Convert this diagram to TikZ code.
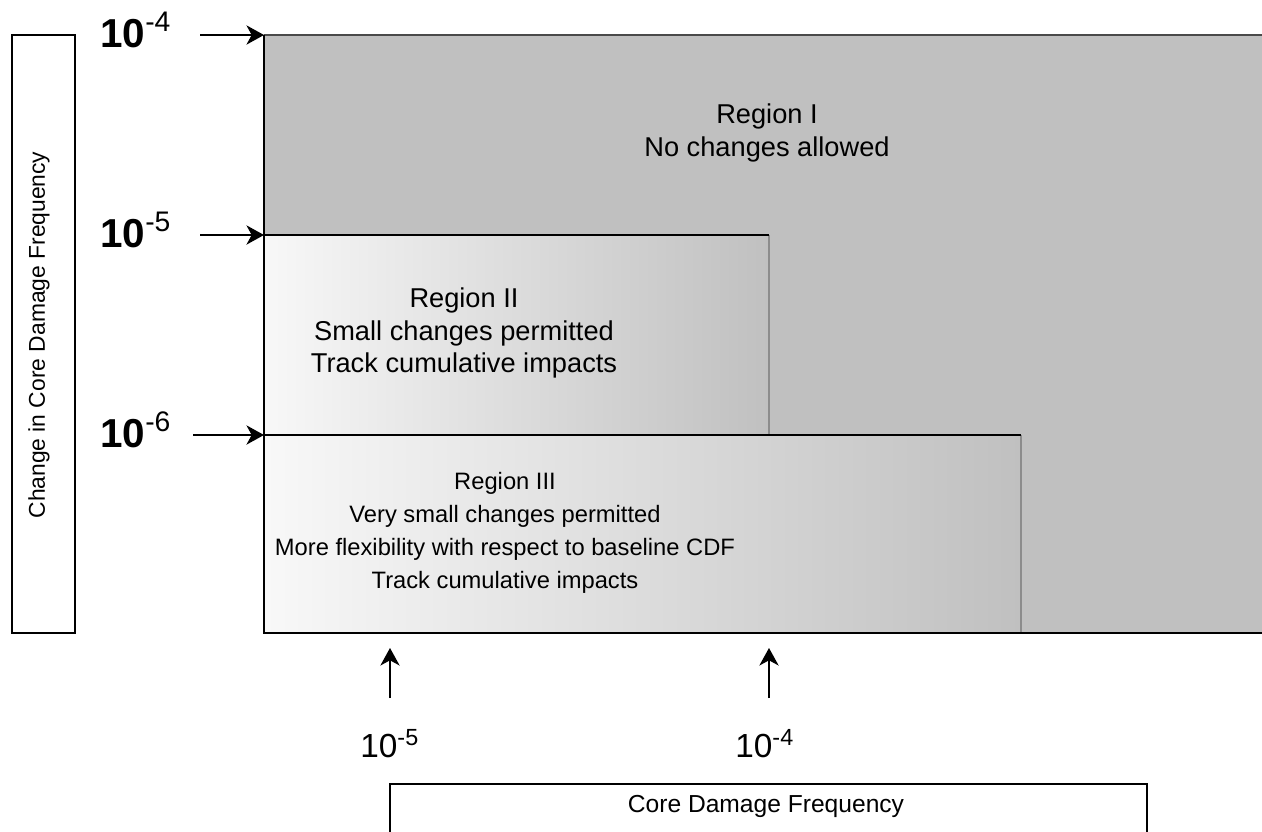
\documentclass[tikz,border=0pt]{standalone}
\usepackage{fontspec}
\setmainfont{Liberation Sans}
\usetikzlibrary{arrows.meta}
\definecolor{regiongray}{HTML}{C0C0C0}
\definecolor{edgegray}{HTML}{8C8C8C}
\definecolor{palegray}{HTML}{F8F8F8}
\definecolor{topgray}{HTML}{4A4A4A}
\begin{document}
\begin{tikzpicture}[x=0.02cm, y=-0.02cm,
    tick/.style={font=\fontsize{23}{26}\selectfont, anchor=base west, inner sep=0pt},
    cdf/.style={font=\fontsize{19}{22}\selectfont, anchor=base west, inner sep=0pt},
    region/.style={align=center, font=\fontsize{15.5}{18.7}\selectfont},
    axisname/.style={font=\fontsize{13}{15}\selectfont},
    marker/.style={->, >={Stealth[length=10pt, width=11pt, inset=3pt]}, line width=0.8pt}]
      \useasboundingbox (0,0) rectangle (1262,832);
      \fill[regiongray] (264,35) rectangle (1262,633);
      \shade[left color=palegray, right color=regiongray] (264,435) rectangle (1021,633);
      \shade[left color=palegray, right color=regiongray] (264,235) rectangle (769,435);
      \draw[edgegray, line width=1pt] (769,235) -- (769,435);
      \draw[edgegray, line width=1pt] (1021,435) -- (1021,633);
      \draw[line width=1pt] (264,235) -- (769,235);
      \draw[line width=1pt] (264,435) -- (1021,435);
      \draw[topgray, line width=1.2pt] (1262,35) -- (264,35);
      \draw[line width=1.4pt] (264,35) -- (264,633) -- (1262,633);
      \draw[line width=1pt] (12,35) rectangle (75,633);
      \draw[line width=1pt] (390,832) -- (390,784) -- (1147,784) -- (1147,832);
      \node[region] (r1) at (767,133) {Region I\\No changes allowed};
      \node[region] (r2) at (464,333) {Region II\\Small changes permitted\\Track cumulative impacts};
      \node[region, font=\fontsize{13.5}{18.7}\selectfont] (r3) at (505,533) {Region III\\Very small changes permitted\\More flexibility with respect to baseline CDF\\Track cumulative impacts};
      \node[axisname, rotate=90] (ylab) at (39,335) {Change in Core Damage Frequency};
      \node[axisname, font=\fontsize{14}{16}\selectfont] (xlab) at (766,806) {Core Damage Frequency};
      \node[tick] (y4) at (100,47) {\textbf{10}\textsuperscript{-4}};
      \node[tick] (y5) at (100,247) {\textbf{10}\textsuperscript{-5}};
      \node[tick] (y6) at (100,447) {\textbf{10}\textsuperscript{-6}};
      \node[cdf] (x5) at (360,757) {10\textsuperscript{-5}};
      \node[cdf] (x4) at (735,757) {10\textsuperscript{-4}};
      \coordinate (a4) at (264,35);
      \coordinate (a4s) at (200,35);
      \coordinate (a5) at (264,235);
      \coordinate (a5s) at (200,235);
      \coordinate (a6) at (264,435);
      \coordinate (a6s) at (193,435);
      \coordinate (b5) at (390,648);
      \coordinate (b5s) at (390,698);
      \coordinate (b4) at (769,648);
      \coordinate (b4s) at (769,698);
      \draw[marker] (a4s) -- (a4);
      \draw[marker] (a5s) -- (a5);
      \draw[marker] (a6s) -- (a6);
      \draw[marker] (b5s) -- (b5);
      \draw[marker] (b4s) -- (b4);
    \end{tikzpicture}
\end{document}
